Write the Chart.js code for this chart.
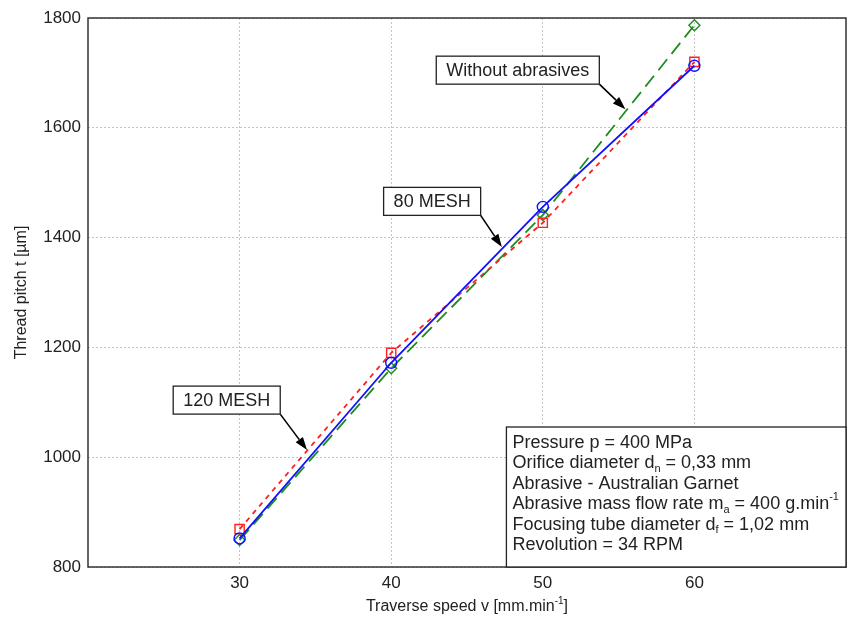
<!DOCTYPE html>
<html>
<head>
<meta charset="utf-8">
<script src="https://cdn.jsdelivr.net/npm/chart.js@4.4.0/dist/chart.umd.min.js"></script>
<style>
  html, body { margin: 0; padding: 0; background: #fff; }
  #wrap { width: 850px; height: 621px; }
</style>
</head>
<body>
<div id="wrap"><canvas id="myChart" width="850" height="621"></canvas></div>
<script>
// data
const speeds = [30, 40, 50, 60];
const mesh120 = [869, 1190, 1427, 1720];
const mesh80 = [852, 1172, 1456, 1713];
const noAbrasive = [849, 1162, 1441, 1787];
const xTicks = [30, 40, 50, 60];
const yTicks = [800, 1000, 1200, 1400, 1600, 1800];

const FONT = '"Liberation Sans", Arial, sans-serif';
const INK = '#222';

// callout labels: box centre and arrow tip in data units
const callouts = [
  { text: 'Without abrasives', bx: 48.35, by: 1705, tx: 55.45, ty: 1634 },
  { text: '80 MESH', bx: 42.7, by: 1466, tx: 47.3, ty: 1383 },
  { text: '120 MESH', bx: 29.15, by: 1104, tx: 34.45, ty: 1013 }
];

// parameters box text (sub / sup parts)
const infoLines = [
  [['Pressure p = 400 MPa']],
  [['Orifice diameter d'], ['n', 'sub'], [' = 0,33 mm']],
  [['Abrasive - Australian Garnet']],
  [['Abrasive mass flow rate m'], ['a', 'sub'], [' = 400 g.min'], ['-1', 'sup']],
  [['Focusing tube diameter d'], ['f', 'sub'], [' = 1,02 mm']],
  [['Revolution = 34 RPM']]
];

function pts(ys) {
  return speeds.map((v, i) => ({ x: v, y: ys[i] }));
}

function drawRich(ctx, parts, x, y, size, measureOnly) {
  let cx = x;
  parts.forEach(p => {
    const s = p[1] ? Math.round(size * 0.62) : size;
    ctx.font = s + 'px ' + FONT;
    let dy = 0;
    if (p[1] === 'sub') dy = size * 0.3;
    if (p[1] === 'sup') dy = -size * 0.38;
    if (!measureOnly) ctx.fillText(p[0], cx, y + dy);
    cx += ctx.measureText(p[0]).width;
  });
  return cx - x;
}

function arrow(ctx, x1, y1, x2, y2) {
  const a = Math.atan2(y2 - y1, x2 - x1);
  const len = 13, hw = 4.5;
  const bx = x2 - len * Math.cos(a), by = y2 - len * Math.sin(a);
  ctx.beginPath();
  ctx.moveTo(x1, y1);
  ctx.lineTo(bx, by);
  ctx.lineWidth = 1.6;
  ctx.strokeStyle = '#000';
  ctx.stroke();
  ctx.beginPath();
  ctx.moveTo(x2, y2);
  ctx.lineTo(bx + hw * Math.sin(a), by - hw * Math.cos(a));
  ctx.lineTo(bx - hw * Math.sin(a), by + hw * Math.cos(a));
  ctx.closePath();
  ctx.fillStyle = '#000';
  ctx.fill();
}

const decor = {
  id: 'decor',
  afterDraw(chart) {
    const ctx = chart.ctx;
    const area = chart.chartArea;
    const xs = chart.scales.x, ys = chart.scales.y;
    ctx.save();

    // frame
    ctx.strokeStyle = '#333';
    ctx.lineWidth = 1.5;
    ctx.strokeRect(area.left, area.top, area.right - area.left, area.bottom - area.top);

    // callouts
    ctx.textBaseline = 'middle';
    ctx.textAlign = 'left';
    callouts.forEach(c => {
      ctx.font = '18px ' + FONT;
      const w = ctx.measureText(c.text).width + 20;
      const h = 28;
      const cx = xs.getPixelForValue(c.bx), cy = ys.getPixelForValue(c.by);
      const l = cx - w / 2, t = cy - h / 2;
      arrow(ctx, l + w, t + h, xs.getPixelForValue(c.tx), ys.getPixelForValue(c.ty));
      ctx.fillStyle = '#fff';
      ctx.fillRect(l, t, w, h);
      ctx.strokeStyle = '#222';
      ctx.lineWidth = 1.3;
      ctx.strokeRect(l, t, w, h);
      ctx.fillStyle = INK;
      ctx.fillText(c.text, l + 10, cy + 1);
    });

    // parameters box
    const il = xs.getPixelForValue(47.6), it = ys.getPixelForValue(1055);
    ctx.fillStyle = '#fff';
    ctx.fillRect(il, it, area.right - il, area.bottom - it);
    ctx.strokeStyle = '#222';
    ctx.lineWidth = 1.3;
    ctx.strokeRect(il, it, area.right - il, area.bottom - it);
    ctx.fillStyle = INK;
    infoLines.forEach((parts, i) => {
      drawRich(ctx, parts, il + 6, it + 16 + i * 20.4, 18);
    });

    // axis titles
    const xt = [['Traverse speed v [mm.min'], ['-1', 'sup'], [']']];
    const tw = drawRich(ctx, xt, 0, 0, 16, true);
    drawRich(ctx, xt, (area.left + area.right) / 2 - tw / 2, 607, 16);

    ctx.translate(22, (area.top + area.bottom) / 2);
    ctx.rotate(-Math.PI / 2);
    ctx.textAlign = 'center';
    ctx.font = '16px ' + FONT;
    ctx.fillText('Thread pitch t [\u00b5m]', 0, 0);
    ctx.restore();
  }
};

const config = {
  type: 'line',
  data: {
    datasets: [
      {
        label: '80 MESH',
        data: pts(mesh80),
        borderColor: '#1010ff',
        borderWidth: 1.8,
        pointStyle: 'circle',
        pointRadius: 5.5,
        pointBorderWidth: 1.4,
        pointBackgroundColor: 'rgba(0,0,0,0)',
        pointBorderColor: '#1010ff',
        order: 1
      },
      {
        label: '120 MESH',
        data: pts(mesh120),
        borderColor: '#ff2020',
        borderWidth: 1.8,
        borderDash: [5, 5],
        pointStyle: 'rect',
        pointRadius: 6.5,
        pointBorderWidth: 1.4,
        pointBackgroundColor: 'rgba(0,0,0,0)',
        pointBorderColor: '#ff2020',
        order: 2
      },
      {
        label: 'Without abrasives',
        data: pts(noAbrasive),
        borderColor: '#1e8c1e',
        borderWidth: 1.8,
        borderDash: [14, 7],
        pointStyle: 'rectRot',
        pointRadius: 5.5,
        pointBorderWidth: 1.4,
        pointBackgroundColor: 'rgba(0,0,0,0)',
        pointBorderColor: '#1e8c1e',
        order: 3
      }
    ]
  },
  options: {
    responsive: false,
    animation: false,
    layout: { autoPadding: false, padding: { top: 18, right: 4, left: 0, bottom: 0 } },
    plugins: {
      legend: { display: false },
      tooltip: { enabled: false }
    },
    scales: {
      x: {
        type: 'linear',
        min: 20,
        max: 70,
        afterBuildTicks: s => { s.ticks = xTicks.map(v => ({ value: v })); },
        afterFit: s => { s.height = 54; s.paddingLeft = 0; s.paddingRight = 0; },
        grid: { color: '#c4c4c4', drawTicks: false },
        border: { display: false, dash: [2, 2] },
        ticks: { padding: 6, color: INK, font: { family: FONT, size: 17 }, callback: v => String(v) }
      },
      y: {
        min: 800,
        max: 1800,
        afterBuildTicks: s => { s.ticks = yTicks.map(v => ({ value: v })); },
        afterFit: s => { s.width = 88; s.paddingTop = 0; s.paddingBottom = 0; },
        grid: { color: '#c4c4c4', drawTicks: false },
        border: { display: false, dash: [2, 2] },
        ticks: { padding: 7, color: INK, font: { family: FONT, size: 17 }, callback: v => String(v) }
      }
    }
  },
  plugins: [decor]
};

new Chart(document.getElementById('myChart'), config);
</script>
</body>
</html>
